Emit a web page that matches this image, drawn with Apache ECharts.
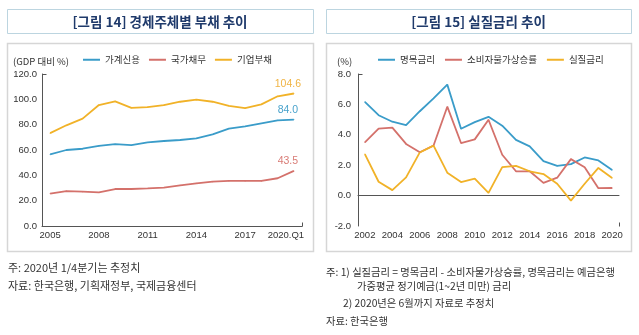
<!DOCTYPE html>
<html>
<head>
<meta charset="utf-8">
<script src="https://cdn.jsdelivr.net/npm/echarts@6/dist/echarts.min.js"></script>
<style>
  html, body { margin: 0; padding: 0; background: #fff; }
  #chart { width: 639px; height: 335px; }
</style>
</head>
<body>
<div id="chart"></div>
<script>
// [그림 14] 경제주체별 부채 추이 (GDP 대비 %)
const debtYears = ['2005','2006','2007','2008','2009','2010','2011','2012','2013','2014','2015','2016','2017','2018','2019','2020.Q1'];
const householdCredit = [56.5, 60.0, 61.0, 63.2, 64.6, 63.8, 66.0, 67.1, 67.9, 69.2, 72.3, 76.9, 78.6, 81.0, 83.4, 84.0];
const nationalDebt    = [25.6, 27.6, 27.1, 26.5, 29.2, 29.2, 29.7, 30.3, 32.1, 33.7, 35.0, 35.6, 35.6, 35.6, 37.7, 43.5];
const corporateDebt   = [73.3, 79.5, 84.8, 95.5, 98.4, 93.3, 93.9, 95.5, 98.1, 99.7, 98.1, 94.9, 93.1, 96.0, 102.4, 104.6];

// [그림 15] 실질금리 추이 (%)
const rateYears = ['2002','2003','2004','2005','2006','2007','2008','2009','2010','2011','2012','2013','2014','2015','2016','2017','2018','2019','2020'];
const nominalRate = [6.17, 5.29, 4.86, 4.64, 5.55, 6.40, 7.30, 4.40, 4.83, 5.18, 4.60, 3.67, 3.24, 2.27, 1.96, 2.07, 2.51, 2.31, 1.69];
const cpiInflation = [3.50, 4.40, 4.47, 3.40, 2.85, 3.30, 5.85, 3.46, 3.70, 4.99, 2.69, 1.60, 1.60, 0.84, 1.18, 2.40, 1.87, 0.49, 0.50];
const realRate    = [2.73, 0.91, 0.36, 1.20, 2.84, 3.29, 1.51, 0.89, 1.11, 0.18, 1.87, 1.96, 1.60, 1.42, 0.78, -0.33, 0.78, 1.82, 1.16];

const BLUE = '#3a9cc9', RED = '#d4716b', YELLOW = '#f1b228';
const NUM_FONT = '"Liberation Sans", Arial, "Noto Sans CJK KR", sans-serif';
const KR_FONT = '"Noto Sans CJK KR", "Liberation Sans", sans-serif';

// plot areas
const g1 = { left: 42, top: 74, width: 260, height: 152 };
const g2 = { left: 358, top: 74, width: 261, height: 152 };

// mark the last value of a series with a label
function withEndLabel(values, color) {
  return values.map((v, i) => i === values.length - 1
    ? { value: v, label: { show: true, position: 'top', distance: 4, offset: [-6, 0],
        color: color, fontSize: 10.5, fontFamily: NUM_FONT, formatter: (p) => p.value.toFixed(1) } }
    : v);
}

function lineSeries(name, values, color, axisIdx, label) {
  return {
    name, type: 'line', xAxisIndex: axisIdx, yAxisIndex: axisIdx,
    data: label ? withEndLabel(values, label) : values,
    symbol: 'circle', symbolSize: 1, showSymbol: true, smooth: false,
    lineStyle: { color, width: 1.8 }, itemStyle: { color },
    emphasis: { disabled: true }, z: 3
  };
}

const axisLineStyle = { show: true, lineStyle: { color: '#555', width: 1 } };
const axisLabelStyle = { color: '#333', fontSize: 9.5, fontFamily: NUM_FONT };

function textEl(x, y, text, opts) {
  return { type: 'text', x, y, silent: true,
    style: Object.assign({ text, fill: '#333', font: '10px ' + KR_FONT, textVerticalAlign: 'middle' }, opts || {}) };
}

function frameEls(x0, x1, title) {
  return [
    { type: 'rect', shape: { x: x0 + 0.5, y: 9.5, width: x1 - x0, height: 24 }, style: { fill: '#fff', stroke: '#bcd5e0', lineWidth: 1 }, silent: true },
    textEl((x0 + x1) / 2, 21.5, title, { fill: '#1f3a6b', font: 'bold 13.5px ' + KR_FONT, textAlign: 'center' }),
    { type: 'rect', shape: { x: x0 + 0.5, y: 43.5, width: x1 - x0, height: 208 }, style: { fill: 'none', stroke: '#d6d6d6', lineWidth: 1.5 }, silent: true, z: -1 }
  ];
}

// small end caps on the axis lines
function capEls(g) {
  const x0 = g.left + 0.5, yTop = g.top + 0.5, yBot = g.top + g.height + 0.5, xEnd = g.left + g.width + 0.5;
  return [
    { type: 'line', shape: { x1: x0, y1: yTop, x2: x0 + 4, y2: yTop }, style: { stroke: '#555', lineWidth: 1 }, silent: true },
    { type: 'line', shape: { x1: xEnd, y1: yBot, x2: xEnd, y2: yBot - 4 }, style: { stroke: '#555', lineWidth: 1 }, silent: true }
  ];
}

const chart = echarts.init(document.getElementById('chart'), null, { renderer: 'canvas' });

chart.setOption({
  animation: false,
  backgroundColor: '#fff',
  grid: [
    Object.assign({ containLabel: false }, g1),
    Object.assign({ containLabel: false }, g2)
  ],
  legend: [
    { data: ['가계신용', '국가채무', '기업부채'], left: 83, top: 55, icon: 'rect', itemWidth: 17, itemHeight: 2, itemGap: 9,
      textStyle: { fontSize: 9.5, color: '#333', fontFamily: KR_FONT }, selectedMode: false, padding: 0 },
    { data: ['명목금리', '소비자물가상승률', '실질금리'], left: 378, top: 55, icon: 'rect', itemWidth: 17, itemHeight: 2, itemGap: 10,
      textStyle: { fontSize: 9.5, color: '#333', fontFamily: KR_FONT }, selectedMode: false, padding: 0 }
  ],
  xAxis: [
    { type: 'category', gridIndex: 0, data: debtYears, boundaryGap: true,
      axisLine: axisLineStyle, axisTick: { show: false },
      axisLabel: Object.assign({ interval: 2, margin: 5,
        // the quarter label sits a little left so it stays inside the frame
        formatter: (v) => v.indexOf('Q') >= 0 ? '{q|' + v + '}' : v,
        rich: { q: { padding: [0, 16, 0, 0], color: '#333', fontSize: 9.5, fontFamily: NUM_FONT } } }, axisLabelStyle) },
    { type: 'category', gridIndex: 1, data: rateYears, boundaryGap: true,
      axisLine: axisLineStyle, axisTick: { show: false },
      axisLabel: Object.assign({ interval: 1, margin: 5 }, axisLabelStyle) }
  ],
  yAxis: [
    { type: 'value', gridIndex: 0, min: 0, max: 120, interval: 20,
      axisLine: axisLineStyle, axisTick: { show: false }, splitLine: { show: false },
      axisLabel: Object.assign({ margin: 5, formatter: (v) => v.toFixed(1) }, axisLabelStyle) },
    { type: 'value', gridIndex: 1, min: -2, max: 8, interval: 2,
      axisLine: axisLineStyle, axisTick: { show: false }, splitLine: { show: false },
      axisLabel: Object.assign({ margin: 7, formatter: (v) => v.toFixed(1) }, axisLabelStyle) }
  ],
  series: [
    lineSeries('가계신용', householdCredit, BLUE, 0, '#4aa3cc'),
    lineSeries('국가채무', nationalDebt, RED, 0, '#d97c76'),
    lineSeries('기업부채', corporateDebt, YELLOW, 0, '#f0b444'),
    lineSeries('명목금리', nominalRate, BLUE, 1),
    lineSeries('소비자물가상승률', cpiInflation, RED, 1),
    lineSeries('실질금리', realRate, YELLOW, 1)
  ],
  graphic: [].concat(
    frameEls(7, 313, '[그림 14] 경제주체별 부채 추이'),
    frameEls(326, 631, '[그림 15] 실질금리 추이'),
    capEls(g1), capEls(g2),
    [
      textEl(13, 61, '(GDP 대비 %)', { font: '9.5px ' + KR_FONT }),
      textEl(337, 61, '(%)', { font: '9.5px ' + KR_FONT }),
      textEl(8, 268, '주: 2020년 1/4분기는 추정치', { font: '11px ' + KR_FONT }),
      textEl(8, 286, '자료: 한국은행, 기획재정부, 국제금융센터', { font: '11px ' + KR_FONT }),
      textEl(326, 272, '주: 1) 실질금리 = 명목금리 - 소비자물가상승률, 명목금리는 예금은행', { font: '10.3px ' + KR_FONT }),
      textEl(357, 286, '가중평균 정기예금(1~2년 미만) 금리', { font: '10.3px ' + KR_FONT }),
      textEl(343, 303, '2) 2020년은 6월까지 자료로 추정치', { font: '10.3px ' + KR_FONT }),
      textEl(326, 321, '자료: 한국은행', { font: '10.3px ' + KR_FONT })
    ]
  )
});
</script>
</body>
</html>
